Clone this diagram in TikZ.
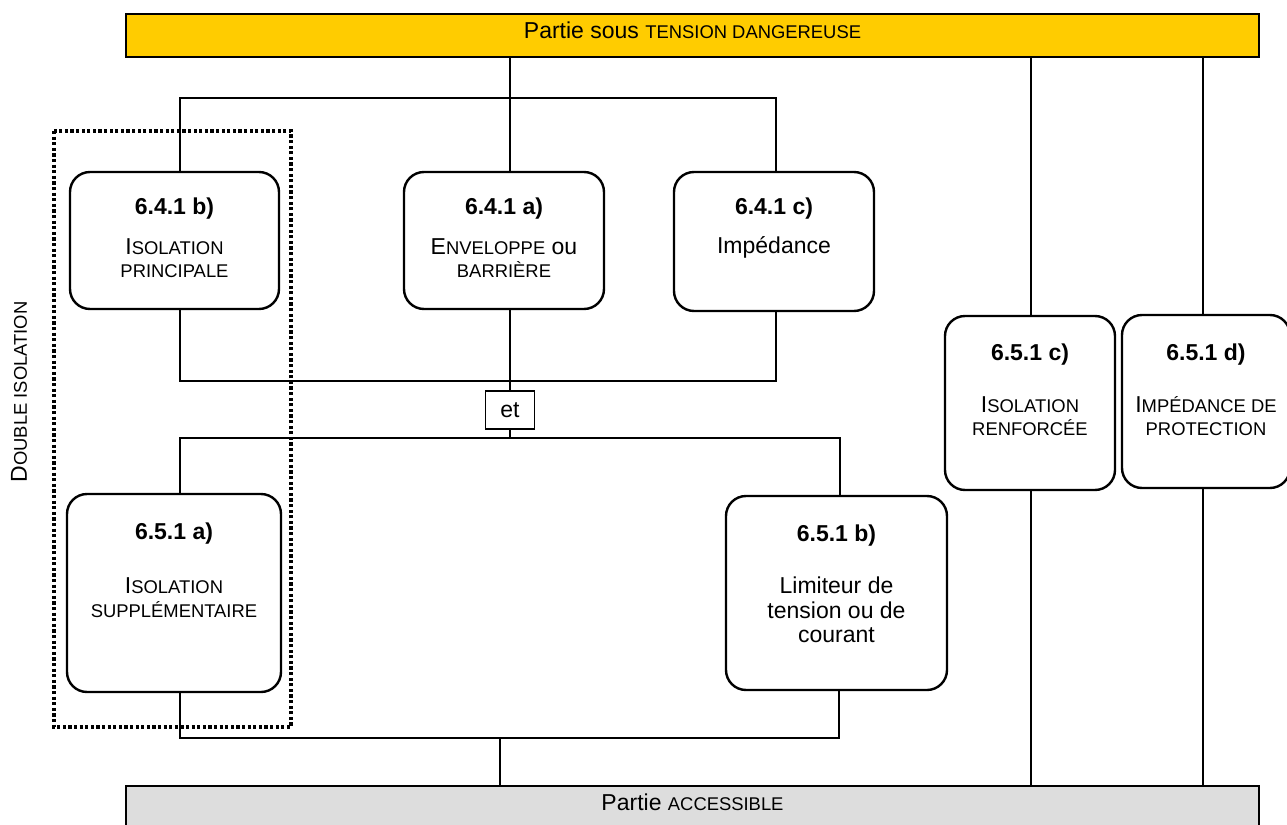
\documentclass[tikz,border=0pt]{standalone}
\usepackage{fontspec}
\setmainfont{Liberation Sans}
\newcommand\smc[1]{{\fontsize{9.2}{11}\selectfont #1}}
\definecolor{baryellow}{HTML}{FFCC00}
\definecolor{bargray}{HTML}{DDDDDD}
\begin{document}
\begin{tikzpicture}[x=0.5pt,y=-0.5pt,
  font=\fontsize{11.5}{13.8}\selectfont,
  box/.style={draw, line width=1.2pt, rounded corners=10pt, inner sep=0pt, fill=white},
  bar/.style={draw, line width=1pt, inner sep=0pt},
  wire/.style={line width=0.6pt},
  lbl/.style={anchor=base, inner sep=0pt, font=\fontsize{11.5}{13.8}\selectfont\bfseries},
  txt/.style={anchor=base, inner sep=0pt},
  dotbox/.style={line width=1.6pt, dash pattern=on 1.6pt off 1.2pt}]
\useasboundingbox (0,0) rectangle (1287,825);
\clip (0,0) rectangle (1287,825);

% bars
\node[bar, fill=baryellow, minimum width=566.5pt, minimum height=21.5pt] (top) at (692.5,35.5) {};
\node[txt] (toptxt) at (692.5,38) {Partie sous \smc{TENSION DANGEREUSE}};
\node[bar, fill=bargray, minimum width=566.5pt, minimum height=27pt] (bot) at (692.5,813) {};
\node[txt] (bottxt) at (692.5,810) {Partie \smc{ACCESSIBLE}};

% boxes
\node[box, minimum width=104.5pt, minimum height=68.5pt] (b1) at (174.5,240.5) {};
\node[box, minimum width=100pt, minimum height=68.5pt] (a1) at (504,240.5) {};
\node[box, minimum width=100pt, minimum height=69.5pt] (c1) at (774,241.5) {};
\node[box, minimum width=107pt, minimum height=99pt] (a5) at (174,593) {};
\node[box, minimum width=110.5pt, minimum height=97pt] (b5) at (836.5,593) {};
\node[box, minimum width=85pt, minimum height=87pt] (c5) at (1030,403) {};
\node[box, minimum width=84pt, minimum height=86.5pt] (d5) at (1206,401.5) {};
\node[draw, line width=0.8pt, minimum width=24.5pt, minimum height=19pt, inner sep=0pt] (et) at (510,410) {et};

% box texts
\node[lbl] (b1l) at (174.5,214) {6.4.1 b)};
\node[txt] (b1t1) at (174.5,254) {I\smc{SOLATION}};
\node[txt] (b1t2) at (174.5,277) {\smc{PRINCIPALE}};

\node[lbl] (a1l) at (504,214) {6.4.1 a)};
\node[txt] (a1t1) at (504,254) {E\smc{NVELOPPE} ou};
\node[txt] (a1t2) at (504,277) {\smc{BARRIÈRE}};

\node[lbl] (c1l) at (774,214) {6.4.1 c)};
\node[txt] (c1t1) at (774,253) {Impédance};

\node[lbl] (a5l) at (174,539) {6.5.1 a)};
\node[txt] (a5t1) at (174,593) {I\smc{SOLATION}};
\node[txt] (a5t2) at (174,617) {\smc{SUPPLÉMENTAIRE}};

\node[lbl] (b5l) at (836.5,541) {6.5.1 b)};
\node[txt] (b5t1) at (836.5,593) {Limiteur de};
\node[txt] (b5t2) at (836.5,618) {tension ou de};
\node[txt] (b5t3) at (836.5,642) {courant};

\node[lbl] (c5l) at (1030,360) {6.5.1 c)};
\node[txt] (c5t1) at (1030,412) {I\smc{SOLATION}};
\node[txt] (c5t2) at (1030,435) {\smc{RENFORCÉE}};

\node[lbl] (d5l) at (1206,360) {6.5.1 d)};
\node[txt] (d5t1) at (1206,412) {I\smc{MPÉDANCE DE}};
\node[txt] (d5t2) at (1206,435) {\smc{PROTECTION}};

% side label
\node[rotate=90, inner sep=0pt] (dbl) at (19,392) {D\smc{OUBLE ISOLATION}};

% connectors
\coordinate (j1) at (510,98);
\coordinate (h1l) at (180,98);
\coordinate (h1r) at (776,98);
\draw[wire] (j1 |- top.south) -- (j1 |- a1.north);
\draw[wire] (h1l |- b1.north) -- (h1l) -- (h1r) -- (h1r |- c1.north);

\coordinate (h2l) at (180,381);
\coordinate (h2r) at (776,381);
\draw[wire] (h2l |- b1.south) -- (h2l) -- (h2r) -- (h2r |- c1.south);
\draw[wire] (j1 |- a1.south) -- (et.north);

\coordinate (h3l) at (180,438);
\coordinate (h3r) at (840,438);
\draw[wire] (et.south) -- (et.south |- h3l);
\draw[wire] (h3l |- a5.north) -- (h3l) -- (h3r) -- (h3r |- b5.north);

\coordinate (h4l) at (180,738);
\coordinate (h4r) at (839,738);
\coordinate (j4) at (500,738);
\draw[wire] (h4l |- a5.south) -- (h4l) -- (h4r) -- (h4r |- b5.south);
\draw[wire] (j4) -- (j4 |- bot.north);

\coordinate (v1) at (1031,0);
\coordinate (v2) at (1203,0);
\draw[wire] (v1 |- top.south) -- (v1 |- c5.north);
\draw[wire] (v1 |- c5.south) -- (v1 |- bot.north);
\draw[wire] (v2 |- top.south) -- (v2 |- d5.north);
\draw[wire] (v2 |- d5.south) -- (v2 |- bot.north);

% dotted group
\draw[dotbox] (54,131) rectangle (291,727);
\end{tikzpicture}
\end{document}
